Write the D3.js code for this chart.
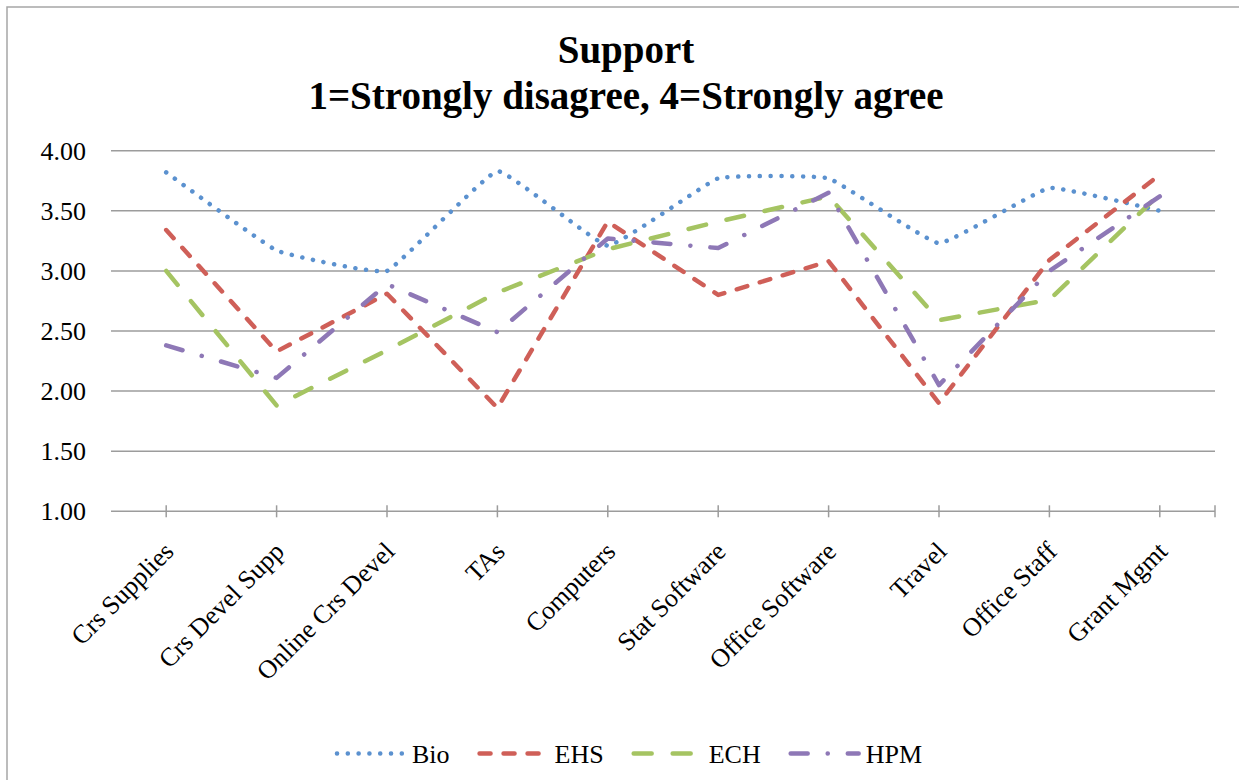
<!DOCTYPE html>
<html lang="en">
<head>
  <meta charset="UTF-8" />
  <title>Support</title>
  <script src="https://d3js.org/d3.v7.min.js"></script>
  <style>
    html, body {
      margin: 0;
      padding: 0;
      background: #fff;
    }
    svg {
      display: block;
      font-family: "Liberation Serif", "DejaVu Serif", serif;
    }
    .grid line {
      stroke: #9c9c9c;
      stroke-width: 1.5;
    }
    .ylabel, .xlabel, .legend text {
      font-size: 26px;
      fill: #000;
    }
    .title {
      font-size: 39px;
      font-weight: bold;
      fill: #000;
    }
    .series {
      fill: none;
      stroke-width: 4.5;
      stroke-linecap: round;
      stroke-linejoin: round;
    }
  </style>
</head>
<body>
  <svg id="chart" width="1239" height="780"></svg>
  <script>
    // values
    const categories = [
      'Crs Supplies', 'Crs Devel Supp', 'Online Crs Devel', 'TAs', 'Computers',
      'Stat Software', 'Office Software', 'Travel', 'Office Staff', 'Grant Mgmt'
    ];
    const bio = [3.82, 3.17, 3.00, 3.83, 3.21, 3.77, 3.77, 3.23, 3.69, 3.50];
    const ehs = [3.34, 2.33, 2.81, 1.86, 3.41, 2.80, 3.08, 1.90, 3.09, 3.80];
    const ech = [3.00, 1.88, 2.34, 2.82, 3.18, 3.41, 3.62, 2.59, 2.76, 3.64];
    const hpm = [2.38, 2.11, 2.89, 2.49, 3.27, 3.19, 3.65, 2.05, 3.00, 3.62];
    const yTicks = [1.0, 1.5, 2.0, 2.5, 3.0, 3.5, 4.0];
    const titleLines = ['Support', '1=Strongly disagree, 4=Strongly agree'];

    const series = [
      { name: 'Bio', values: bio, color: '#5b91cf', dash: '0.1 10.7', smooth: true },
      { name: 'EHS', values: ehs, color: '#cf5f58', dash: '11 13', smooth: false },
      { name: 'ECH', values: ech, color: '#a5c462', dash: '18 21', smooth: false },
      { name: 'HPM', values: hpm, color: '#8e78b6', dash: '17 20 0.1 20', smooth: false }
    ];

    const plot = { left: 111, right: 1215, top: 150.7, bottom: 511.3 };

    const svg = d3.select('#chart');

    // outer chart frame (right and bottom edges sit outside the picture)
    svg.append('rect')
      .attr('x', 7).attr('y', 7)
      .attr('width', 1240).attr('height', 790)
      .attr('fill', '#fff')
      .attr('stroke', '#a6a6a6')
      .attr('stroke-width', 1.5);

    const x = d3.scaleBand()
      .domain(categories)
      .range([plot.left, plot.right])
      .padding(0);
    const cx = c => x(c) + x.bandwidth() / 2;

    const y = d3.scaleLinear()
      .domain([1, 4])
      .range([plot.bottom, plot.top]);

    // title
    svg.selectAll('.title')
      .data(titleLines)
      .enter().append('text')
      .attr('class', 'title')
      .attr('x', 626)
      .attr('y', (d, i) => 63 + i * 46)
      .attr('text-anchor', 'middle')
      .text(d => d);

    // horizontal gridlines
    svg.append('g')
      .attr('class', 'grid')
      .selectAll('line')
      .data(yTicks)
      .enter().append('line')
      .attr('x1', plot.left).attr('x2', plot.right)
      .attr('y1', d => y(d)).attr('y2', d => y(d));

    // y labels
    svg.append('g')
      .selectAll('text')
      .data(yTicks)
      .enter().append('text')
      .attr('class', 'ylabel')
      .attr('x', 86)
      .attr('y', d => y(d))
      .attr('dy', '0.35em')
      .attr('text-anchor', 'end')
      .text(d => d3.format('.2f')(d));

    // category ticks: at each point plus the right end of the axis
    const tickXs = categories.map(cx).concat([plot.right]);
    svg.append('g')
      .attr('class', 'grid')
      .selectAll('line')
      .data(tickXs)
      .enter().append('line')
      .attr('x1', d => d).attr('x2', d => d)
      .attr('y1', plot.bottom - 6).attr('y2', plot.bottom + 6);

    // category labels, rotated
    svg.append('g')
      .selectAll('text')
      .data(categories)
      .enter().append('text')
      .attr('class', 'xlabel')
      .attr('text-anchor', 'end')
      .attr('transform', d => `translate(${cx(d) + 9},${553}) rotate(-45)`)
      .text(d => d);

    // series lines
    series.forEach(s => {
      const line = d3.line()
        .x((v, i) => cx(categories[i]))
        .y(v => y(v))
        .curve(s.smooth ? d3.curveCardinal.tension(0.72) : d3.curveLinear);
      svg.append('path')
        .attr('class', 'series')
        .attr('d', line(s.values))
        .attr('stroke', s.color)
        .attr('stroke-dasharray', s.dash);
    });

    // legend
    const legend = svg.append('g').attr('class', 'legend');
    const symLen = 70, textGap = 7, itemGap = 28, legendY = 753.5;
    let cursor = 0;
    series.forEach(s => {
      const g = legend.append('g').attr('transform', `translate(${cursor},0)`);
      g.append('line')
        .attr('class', 'series')
        .attr('x1', 2).attr('x2', symLen)
        .attr('y1', legendY).attr('y2', legendY)
        .attr('stroke', s.color)
        .attr('stroke-dasharray', s.dash);
      const t = g.append('text')
        .attr('x', symLen + textGap)
        .attr('y', legendY)
        .attr('dy', '0.35em')
        .text(s.name);
      const w = t.node().getComputedTextLength();
      cursor += symLen + textGap + w + itemGap;
    });
    const total = cursor - itemGap;
    legend.attr('transform', `translate(${628.5 - total / 2},0)`);
  </script>
</body>
</html>
